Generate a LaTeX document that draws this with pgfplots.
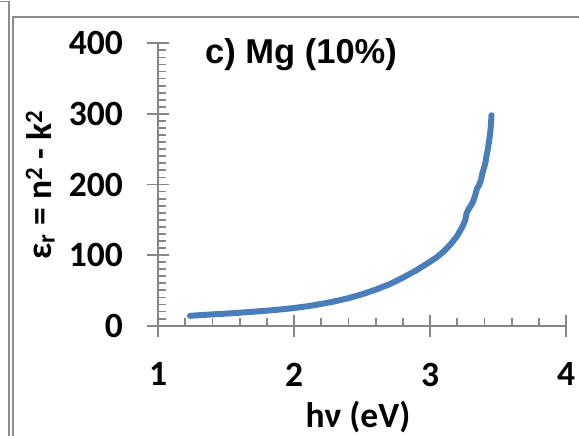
\documentclass[border=0pt]{standalone}
\usepackage{fontspec}
\setmainfont{Carlito}
\newfontfamily\titlefont{Liberation Sans}
\usepackage{pgfplots}
\pgfplotsset{compat=1.18}

\definecolor{axgray}{HTML}{868686}
\definecolor{framegray}{HTML}{8C8C8C}
\definecolor{series}{HTML}{4A7EBB}

\newcommand\labelfont{\fontsize{35.5bp}{40bp}\selectfont\bfseries}

% Real part of the dielectric constant versus photon energy
\pgfplotstableread{
x      y
1.235  14.0
1.30   14.8
1.40   16.0
1.50   17.1
1.60   18.4
1.70   19.8
1.80   21.3
1.90   23.0
2.00   25.0
2.10   27.6
2.20   30.8
2.30   34.5
2.40   39.0
2.50   44.5
2.60   51.0
2.70   58.5
2.80   68.0
2.90   78.5
3.00   90.5
3.05   97.0
3.10   105.0
3.15   115.0
3.20   127.0
3.24   141.0
3.26   150.0
3.27   160.0
3.29   167.0
3.31   173.0
3.33   183.0
3.345  194.0
3.36   199.0
3.375  206.0
3.385  216.0
3.395  222.0
3.405  229.0
3.415  240.0
3.425  250.0
3.435  262.0
3.442  272.0
3.448  284.0
3.452  298.0
}\epsdata

\begin{document}
\begin{tikzpicture}[x=1bp,y=1bp]
\path[use as bounding box] (0,0) rectangle (579,436);
\clip (0,0) rectangle (579,436);
% panel frames
\draw[framegray, line width=1.5bp] (0,434.5) -- (9,434.5) -- (9,-5);
\draw[framegray, line width=1.5bp] (585,419) -- (13,419) -- (13,-5);

\begin{axis}[
  at={(158bp,110.3bp)}, anchor=south west,
  scale only axis, width=408bp, height=282.4bp,
  xmin=1, xmax=4, ymin=0, ymax=400,
  axis lines*=left,
  axis line style={axgray, line width=2bp},
  xtick={1,2,3,4}, ytick={0,100,200,300,400},
  minor x tick num=4, minor y tick num=9,
  tick align=inside,
  major tick length=22bp, minor tick length=8bp,
  tick style={axgray, line width=1.8bp},
  every major x tick/.append style={yshift=-11bp},
  every major y tick/.append style={xshift=-11bp},
  /pgf/number format/assume math mode=true,
  ticklabel style={font=\labelfont, inner sep=0pt},
  xticklabel style={anchor=north, yshift=-37bp},
  yticklabel style={anchor=east, xshift=-35bp},
]
\addplot[series, line width=6bp, line cap=round, line join=round]
  table[x=x, y=y] {\epsdata};
\end{axis}

\node[anchor=base west, inner sep=0pt,
      font=\titlefont\bfseries\fontsize{34.5bp}{40bp}\selectfont]
  at (205,372.5) {c) Mg (10\%)};
\node[anchor=base, inner sep=0pt, font=\labelfont] at (358,8) {hν (eV)};
\node[anchor=base, rotate=90, inner sep=0pt, font=\labelfont]
  at (51,251) {ε\textsubscript{r} = n\textsuperscript{2} - k\textsuperscript{2}};
\end{tikzpicture}
\end{document}
